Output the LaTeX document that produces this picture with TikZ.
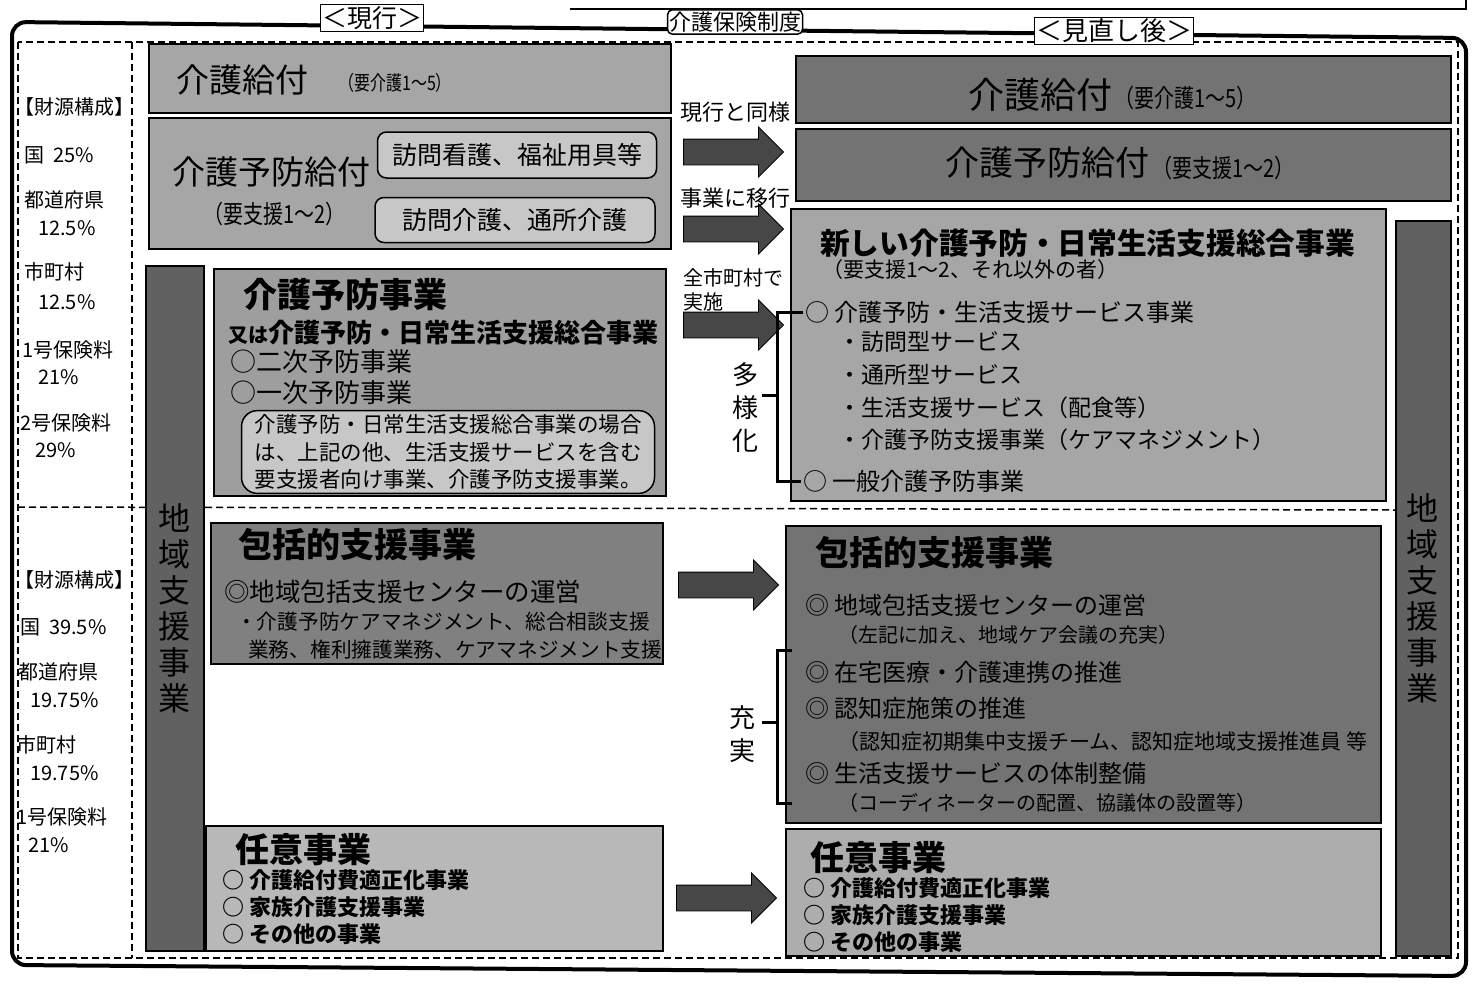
\documentclass[tikz,border=0pt]{standalone}
\usepackage{fontspec}
\setmainfont{Noto Sans CJK JP}
\newfontfamily\narrowjp{Noto Sans CJK JP}[FakeStretch=0.8]
\usetikzlibrary{shapes.arrows}

\newcommand{\fsz}[1]{\fontsize{#1}{#1}\selectfont}

\tikzset{
  lbl/.style={inner sep=0pt, anchor=west},
  panel/.style={draw, line width=1.8pt, anchor=north west, inner sep=0pt},
  subbox/.style={draw, line width=1.5pt, rounded corners=9pt, fill=black!22},
  bigarrow/.style={single arrow, fill=black!72, draw=black, line width=0.8pt,
    minimum height=100pt, single arrow head extend=12pt, inner sep=12.5pt},
  frame/.style={line width=4pt, rounded corners=14pt},
  dashframe/.style={line width=1.5pt, dash pattern=on 7pt off 4pt},
  bracket/.style={line width=3pt},
  tag/.style={draw, fill=white, line width=1pt, inner sep=1.5pt},
  vtext/.style={align=center, inner sep=0pt},
}

\begin{document}
\begin{tikzpicture}[x=1pt,y=-1pt]
	\useasboundingbox (0,0) rectangle (1472,990);
	% frames
	\draw[line width=1.2pt] (570,9) -- (1466,9) -- (1466,0);
	\draw[frame] (12,965) -- (12,22) -- (1466,38) -- (1466,976) -- cycle;
	\draw[dashframe] (18,42) rectangle (1458,958);
	\draw[dashframe] (132,42) -- (132,958);
	\draw[dashframe] (18,507) -- (1395,510);
	\node[tag,font=\fsz{25}] (genko) at (372,18) {＜現行＞};
	\node[tag,rounded corners=5pt,line width=1.5pt,inner ysep=2pt,font=\fsz{22}] (seido) at (735,22) {介護保険制度};
	\node[tag,font=\fsz{26}] (minaoshi) at (1114,31) {＜見直し後＞};

	% financing (left column)
	\node[lbl,font=\fsz{20}] (zai1) at (14,107) {【財源構成】};
	\node[lbl,font=\fsz{20}] (kuni1) at (24,155) {国\ \ 25\%};
	\node[lbl,font=\fsz{20}] (ken1) at (24,200) {都道府県};
	\node[lbl,font=\fsz{20}] (kenp1) at (38,228) {12.5\%};
	\node[lbl,font=\fsz{20}] (shi1) at (24,272) {市町村};
	\node[lbl,font=\fsz{20}] (ship1) at (38,302) {12.5\%};
	\node[lbl,font=\fsz{20}] (ichi1) at (22,350) {1号保険料};
	\node[lbl,font=\fsz{20}] (ichip1) at (38,377) {21\%};
	\node[lbl,font=\fsz{20}] (ni1) at (20,423) {2号保険料};
	\node[lbl,font=\fsz{20}] (nip1) at (35,450) {29\%};

	\node[lbl,font=\fsz{20}] (zai2) at (14,580) {【財源構成】};
	\node[lbl,font=\fsz{20}] (kuni2) at (20,627) {国\ \ 39.5\%};
	\node[lbl,font=\fsz{20}] (ken2) at (18,672) {都道府県};
	\node[lbl,font=\fsz{20}] (kenp2) at (30,700) {19.75\%};
	\node[lbl,font=\fsz{20}] (shi2) at (16,745) {市町村};
	\node[lbl,font=\fsz{20}] (ship2) at (30,773) {19.75\%};
	\node[lbl,font=\fsz{20}] (ichi2) at (16,817) {1号保険料};
	\node[lbl,font=\fsz{20}] (ichip2) at (28,845) {21\%};

	% current system (left)
	\node[panel,fill=black!35,minimum width=522pt,minimum height=69pt] (kyufuL) at (148,43) {};
	\node[lbl,font=\fsz{33}] (kyufuLt) at (176,80) {介護給付};
	\node[lbl,font=\narrowjp\fsz{20}] (kyufuLs) at (338,83) {（要介護1～5）};

	\node[panel,fill=black!35,minimum width=522pt,minimum height=131pt] (yoboL) at (148,117) {};
	\node[lbl,font=\fsz{33}] (yoboLt) at (172,172) {介護予防給付};
	\node[lbl,font=\narrowjp\fsz{25}] (yoboLs) at (203,214) {（要支援1～2）};
	\node[subbox,minimum width=279pt,minimum height=46pt,font=\fsz{25}] (homon1) at (517,155) {訪問看護、福祉用具等};
	\node[subbox,minimum width=280pt,minimum height=45pt,font=\fsz{25}] (homon2) at (515,220) {訪問介護、通所介護};

	\node[panel,fill=black!38,minimum width=452pt,minimum height=227pt] (yoboJL) at (213,268) {};
	\node[lbl,font=\fsz{34}\bfseries] (yoboJLt) at (243,295) {介護予防事業};
	\node[lbl,font=\fsz{26}\bfseries] (yoboJLs) at (228,333) {{\fsz{20}又は}介護予防・日常生活支援総合事業};
	\node[lbl,font=\fsz{26}] (niji) at (230,362) {○二次予防事業};
	\node[lbl,font=\fsz{26}] (ichiji) at (230,393) {○一次予防事業};
	\node[subbox,rounded corners=16pt,align=left,inner xsep=13pt,inner ysep=4pt,
	  font=\fontsize{21.5}{27.5}\selectfont] (yoboNote) at (448,452)
	  {介護予防・日常生活支援総合事業の場合\\は、上記の他、生活支援サービスを含む\\要支援者向け事業、介護予防支援事業。};

	\node[panel,fill=black!50,minimum width=452pt,minimum height=141pt] (hokatsuL) at (210,522) {};
	\node[lbl,font=\fsz{34}\bfseries] (hokatsuLt) at (238,545) {包括的支援事業};
	\node[lbl,font=\fsz{25.5}] (centerL) at (224,592) {◎地域包括支援センターの運営};
	\node[lbl,font=\fsz{20.7}] (centerL1) at (236,622) {・介護予防ケアマネジメント、総合相談支援};
	\node[lbl,font=\fsz{20.7}] (centerL2) at (248,650) {業務、権利擁護業務、ケアマネジメント支援};

	\node[panel,fill=black!28,minimum width=457pt,minimum height=125pt] (niniL) at (205,825) {};
	\node[lbl,font=\fsz{34}\bfseries] (niniLt) at (235,850) {任意事業};
	\node[lbl,font=\fsz{22}\bfseries] (niniL1) at (222,880) {○ 介護給付費適正化事業};
	\node[lbl,font=\fsz{22}\bfseries] (niniL2) at (222,907) {○ 家族介護支援事業};
	\node[lbl,font=\fsz{22}\bfseries] (niniL3) at (222,934) {○ その他の事業};

	\node[panel,fill=black!62,minimum width=58pt,minimum height=685pt] (chiikiL) at (145,265) {};
	\node[vtext,font=\fontsize{32}{36}\selectfont] (chiikiLt) at (174,608) {地\\域\\支\\援\\事\\業};

	% arrows
	\node[bigarrow] (arr1) at (727,152) {};
	\node[bigarrow] (arr2) at (727,229) {};
	\node[bigarrow] (arr3) at (727,325) {};
	\node[bigarrow] (arr4) at (722,585) {};
	\node[bigarrow] (arr5) at (720,898) {};
	\node[lbl,font=\fsz{22}] (arr1t) at (680,112) {現行と同様};
	\node[lbl,font=\fsz{22}] (arr2t) at (680,198) {事業に移行};
	\node[lbl,font=\fsz{20}] (arr3t) at (683,278) {全市町村で};
	\node[lbl,font=\fsz{20}] (arr3u) at (683,302) {実施};

	% revised system (right)
	\node[panel,fill=black!55,minimum width=655pt,minimum height=67pt] (kyufuR) at (795,55) {};
	\node[lbl,font=\fsz{36}] (kyufuRt) at (968,95) {介護給付};
	\node[lbl,font=\narrowjp\fsz{25}] (kyufuRs) at (1114,98) {（要介護1～5）};

	\node[panel,fill=black!55,minimum width=655pt,minimum height=72pt] (yoboR) at (795,128) {};
	\node[lbl,font=\fsz{34}] (yoboRt) at (945,163) {介護予防給付};
	\node[lbl,font=\narrowjp\fsz{25}] (yoboRs) at (1152,168) {（要支援1～2）};

	\node[panel,fill=black!35,minimum width=595pt,minimum height=292pt] (sogoR) at (790,208) {};
	\node[lbl,font=\fsz{29.7}\bfseries] (sogoRt) at (820,243) {新しい介護予防・日常生活支援総合事業};
	\node[lbl,font=\fsz{21}] (sogoRs) at (822,270) {（要支援1～2、それ以外の者）};
	\node[lbl,font=\fsz{24}] (svc) at (805,312) {○ 介護予防・生活支援サービス事業};
	\node[lbl,font=\fsz{23}] (svc1) at (838,342) {・訪問型サービス};
	\node[lbl,font=\fsz{23}] (svc2) at (838,375) {・通所型サービス};
	\node[lbl,font=\fsz{23}] (svc3) at (838,408) {・生活支援サービス（配食等）};
	\node[lbl,font=\fsz{23}] (svc4) at (838,440) {・介護予防支援事業（ケアマネジメント）};
	\node[lbl,font=\fsz{24}] (ippan) at (803,481) {○ 一般介護予防事業};

	\node[panel,fill=black!55,minimum width=595pt,minimum height=297pt] (hokatsuR) at (785,525) {};
	\node[lbl,font=\fsz{34}\bfseries] (hokatsuRt) at (815,553) {包括的支援事業};
	\node[lbl,font=\fsz{24}] (centerR) at (805,605) {◎ 地域包括支援センターの運営};
	\node[lbl,font=\fsz{20}] (centerRs) at (838,635) {（左記に加え、地域ケア会議の充実）};
	\node[lbl,font=\fsz{24}] (zaitaku) at (805,672) {◎ 在宅医療・介護連携の推進};
	\node[lbl,font=\fsz{24}] (ninchi) at (805,708) {◎ 認知症施策の推進};
	\node[lbl,font=\fsz{21}] (ninchis) at (838,742) {（認知症初期集中支援チーム、認知症地域支援推進員 等};
	\node[lbl,font=\fsz{24}] (seikatsu) at (805,773) {◎ 生活支援サービスの体制整備};
	\node[lbl,font=\fsz{20}] (seikatsus) at (838,803) {（コーディネーターの配置、協議体の設置等）};

	\node[panel,fill=black!32,minimum width=595pt,minimum height=127pt] (niniR) at (785,828) {};
	\node[lbl,font=\fsz{34}\bfseries] (niniRt) at (810,858) {任意事業};
	\node[lbl,font=\fsz{22}\bfseries] (niniR1) at (803,888) {○ 介護給付費適正化事業};
	\node[lbl,font=\fsz{22}\bfseries] (niniR2) at (803,915) {○ 家族介護支援事業};
	\node[lbl,font=\fsz{22}\bfseries] (niniR3) at (803,942) {○ その他の事業};

	\node[panel,fill=black!62,minimum width=55pt,minimum height=735pt] (chiikiR) at (1395,220) {};
	\node[vtext,font=\fontsize{32}{36}\selectfont] (chiikiRt) at (1422,598) {地\\域\\支\\援\\事\\業};

	% brackets
	\draw[bracket] ([xshift=-2pt]svc.west) -- (777,312) -- (777,481) -- ([xshift=-2pt]ippan.west);
	\draw[bracket] (777,395) -- (762,395);
	\node[vtext,font=\fontsize{26}{33}\selectfont] (tayoka) at (745,408) {多\\様\\化};
	\draw[bracket] (792,650) -- (777,650) -- (777,803) -- (792,803);
	\draw[bracket] (777,722) -- (762,722);
	\node[vtext,font=\fontsize{26}{33}\selectfont] (juujitsu) at (742,734) {充\\実};
\end{tikzpicture}
\end{document}
